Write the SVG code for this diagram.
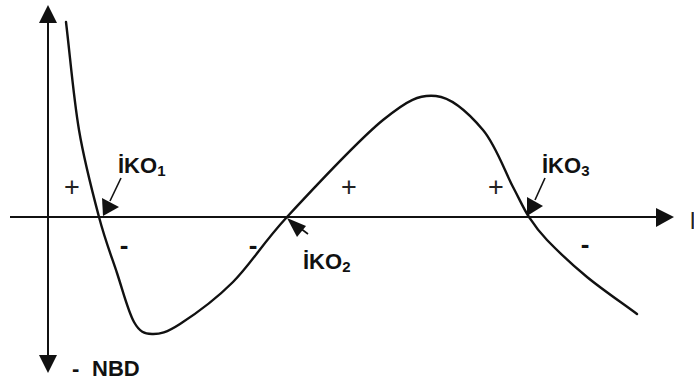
<svg xmlns="http://www.w3.org/2000/svg" width="694" height="381" viewBox="0 0 694 381">
<style>
.ax{stroke:#111;stroke-width:2;fill:none}
.cv{stroke:#111;stroke-width:2.4;fill:none;stroke-linecap:round}
.sh{stroke:#111;stroke-width:1.6;fill:none}
.hd{fill:#111;stroke:none}
.lb{font-family:"Liberation Sans",Arial,sans-serif;font-weight:bold;fill:#111}
.sg{font-family:"Liberation Sans",Arial,sans-serif;fill:#222}
</style>
<rect width="694" height="381" fill="#fff"/>
<g id="connectors">
<g id="y-axis">
<line class="ax" x1="48" y1="22" x2="48" y2="356"/>
<polygon class="hd" points="48,5 39,23 57,23"/>
<polygon class="hd" points="48,373 39,355 57,355"/>
</g>
<g id="x-axis">
<line class="ax" x1="10" y1="217" x2="658" y2="217"/>
<polygon class="hd" points="674,217 656,208 656,227"/>
</g>
<g id="curve">
<path class="cv" d="M66,22 C70.3,58 73.5,97.5 79,130 C84.5,162.5 92.7,193.2 99,217 C105.3,240.8 111.2,255.5 117,273 C122.8,290.5 128.2,311.8 134,322 C139.8,332.2 144.3,333.7 152,334 C159.7,334.3 166.5,332.7 180,324 C193.5,315.3 215.2,299.8 233,282 C250.8,264.2 262,244 287,217 C312,190 358.2,140.2 383,120 C407.8,99.8 419.3,94.3 436,96 C452.7,97.7 470.2,114.8 483,130 C495.8,145.2 505.3,172.5 513,187 C520.7,201.5 523.3,208.2 529,217 C534.7,225.8 537.3,230 547,240 C556.7,250 572,264.7 587,277 C602,289.3 620.3,301.7 637,314"/>
</g>
<g id="arrow-iko1">
<line class="sh" x1="121" y1="178" x2="110" y2="201"/>
<polygon class="hd" points="103,216 102,198 119,207"/>
</g>
<g id="arrow-iko2">
<line class="sh" x1="308" y1="234" x2="296" y2="225"/>
<polygon class="hd" points="287,218 306,226 297,237"/>
</g>
<g id="arrow-iko3">
<line class="sh" x1="545" y1="178" x2="535" y2="200"/>
<polygon class="hd" points="527,216 527,197 543,206"/>
</g>
</g>
<g id="label-iko1"><text class="lb" x="118" y="173" font-size="22">İKO<tspan font-size="15" dy="3">1</tspan></text></g>
<g id="label-iko2"><text class="lb" x="303" y="269" font-size="22">İKO<tspan font-size="15" dy="3">2</tspan></text></g>
<g id="label-iko3"><text class="lb" x="542" y="173" font-size="22">İKO<tspan font-size="15" dy="3">3</tspan></text></g>
<g id="label-nbd"><text class="lb" x="72" y="376" font-size="22">-</text><text class="lb" x="92" y="376" font-size="22">NBD</text></g>
<g id="signs">
<text class="sg" x="72" y="196" font-size="27" text-anchor="middle">+</text>
<text class="sg" x="349" y="196" font-size="27" text-anchor="middle">+</text>
<text class="sg" x="496" y="196" font-size="27" text-anchor="middle">+</text>
<text class="lb" x="124" y="254" font-size="26" text-anchor="middle">-</text>
<text class="lb" x="253" y="254" font-size="26" text-anchor="middle">-</text>
<text class="lb" x="585" y="253" font-size="26" text-anchor="middle">-</text>
</g>
<text class="sg" x="690" y="229" font-size="24">l</text>
</svg>
